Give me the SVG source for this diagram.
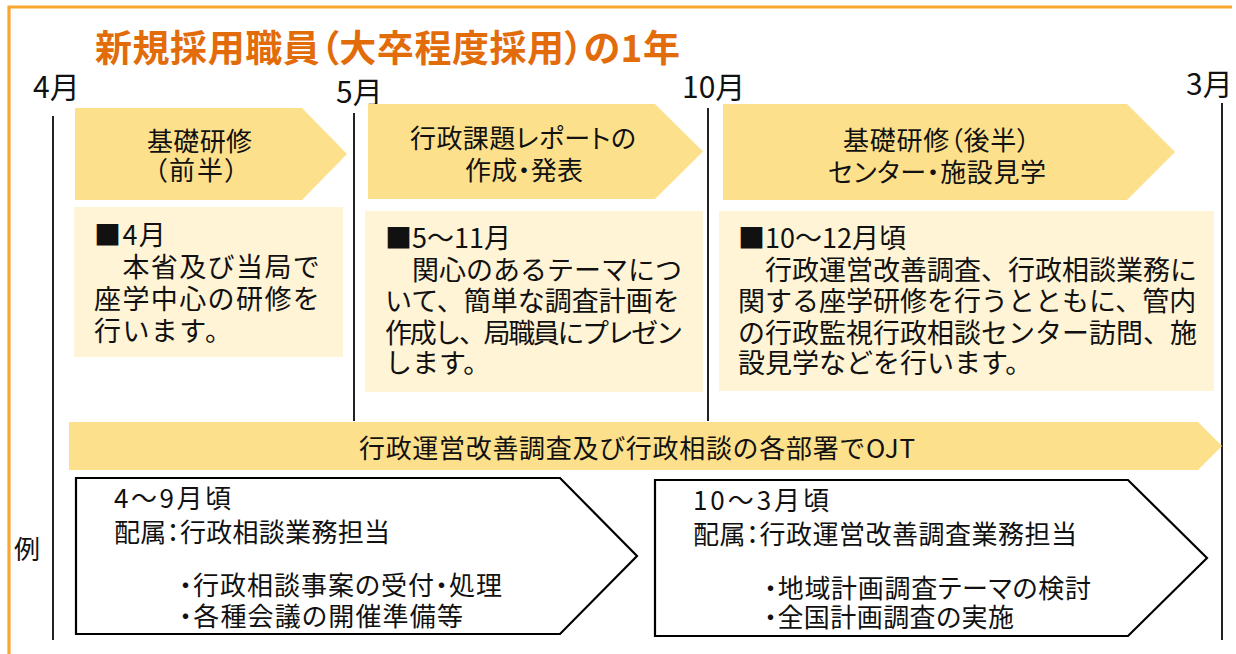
<svg xmlns="http://www.w3.org/2000/svg" width="1236" height="654" viewBox="0 0 1236 654">
<style>
text { font-family: "Noto Sans CJK JP", "Noto Sans CJK SC", sans-serif; fill: #111; }
.p { font-feature-settings: "palt" 1; }
.arrow { fill: #FDE08C; }
.box { fill: #FFF4D6; }
.pent { fill: #fff; stroke: #000; stroke-width: 2.2; stroke-linejoin: miter; }
.tl { stroke: #222; stroke-width: 2; fill: none; }
.m { font-size: 30px; }
.h { font-size: 26px; }
.b { font-size: 27px; }
.b1 { font-size: 27px; letter-spacing: 1.4px; }
.q { font-size: 26px; }
</style>
<rect width="1236" height="654" fill="#fff"/>
<path d="M1232 7 H9 V660" fill="none" stroke="#F8A531" stroke-width="3.2"/>
<g id="title">
<text x="95" y="62" class="p" font-size="37" font-weight="bold" style="fill:#E36C0A" textLength="585" lengthAdjust="spacing">新規採用職員（大卒程度採用）の1年</text>
</g>
<g id="connectors">
<line class="tl" x1="53" y1="116" x2="53" y2="640"/>
<line class="tl" x1="354" y1="113" x2="354" y2="421"/>
<line class="tl" x1="708" y1="108" x2="708" y2="421"/>
<line class="tl" x1="1222" y1="103" x2="1222" y2="640"/>
</g>
<g id="months">
<text class="m" x="33" y="98">4月</text>
<text class="m" x="336" y="103">5月</text>
<text class="m" x="682" y="98">10月</text>
<text class="m" x="1186" y="95">3月</text>
</g>
<g id="phase1">
<path class="arrow" d="M75 108 H302 L347 154 L302 200 H75 Z"/>
<text class="h p" x="147" y="151" textLength="105" lengthAdjust="spacing">基礎研修</text>
<text class="h p" x="154" y="180" textLength="84" lengthAdjust="spacing">（前半）</text>
</g>
<g id="phase2">
<path class="arrow" d="M368 104 H655 L703 151.5 L655 199 H368 Z"/>
<text class="h p" x="410" y="148" textLength="226" lengthAdjust="spacing">行政課題レポートの</text>
<text class="h p" x="465" y="180" textLength="118" lengthAdjust="spacing">作成・発表</text>
</g>
<g id="phase3">
<path class="arrow" d="M723 104 H1127 L1175 152 L1127 200 H723 Z"/>
<text class="h p" x="843" y="150" textLength="187" lengthAdjust="spacing">基礎研修（後半）</text>
<text class="h p" x="828" y="182" textLength="218" lengthAdjust="spacing">センター・施設見学</text>
</g>
<g id="detail1">
<rect class="box" x="74" y="207" width="269" height="150"/>
<text class="b1" x="94" y="245">■4月</text>
<text class="b1" x="94" y="277">　本省及び当局で</text>
<text class="b1" x="94" y="309">座学中心の研修を</text>
<text class="b1" x="94" y="341">行います。</text>
</g>
<g id="detail2">
<rect class="box" x="365" y="211" width="338" height="181"/>
<text class="b" x="385" y="248">■5～11月</text>
<text class="b" x="385" y="280">　関心のあるテーマにつ</text>
<text class="b" x="385" y="311">いて、簡単な調査計画を</text>
<text class="b" x="385" y="343" textLength="298" lengthAdjust="spacing">作成し、局職員にプレゼン</text>
<text class="b" x="385" y="373">します。</text>
</g>
<g id="detail3">
<rect class="box" x="719" y="211" width="495" height="180"/>
<text class="b" x="738" y="248">■10～12月頃</text>
<text class="b" x="738" y="280">　行政運営改善調査、行政相談業務に</text>
<text class="b" x="738" y="311">関する座学研修を行うとともに、管内</text>
<text class="b" x="738" y="343">の行政監視行政相談センター訪問、施</text>
<text class="b" x="738" y="373">設見学などを行います。</text>
</g>
<g id="ojt">
<path class="arrow" d="M69 422 H1198 L1222 446 L1198 470 H69 Z"/>
<text class="q" x="359" y="458" textLength="556" lengthAdjust="spacing">行政運営改善調査及び行政相談の各部署でOJT</text>
</g>
<g id="example-label">
<text class="q" x="14" y="559">例</text>
</g>
<g id="assign1">
<path class="pent" d="M76 478 H560 L637 556 L560 634 H76 Z"/>
<text class="q p" x="114" y="508" textLength="117" lengthAdjust="spacing">4～9月頃</text>
<text class="q p" x="114" y="542" textLength="276" lengthAdjust="spacing">配属：行政相談業務担当</text>
<text class="q p" x="179" y="595" textLength="323" lengthAdjust="spacing">・行政相談事案の受付・処理</text>
<text class="q p" x="179" y="626" textLength="284" lengthAdjust="spacing">・各種会議の開催準備等</text>
</g>
<g id="assign2">
<path class="pent" d="M655 480 H1128 L1207 558 L1128 636 H655 Z"/>
<text class="q p" x="693" y="510" textLength="136" lengthAdjust="spacing">10～3月頃</text>
<text class="q p" x="693" y="544" textLength="384" lengthAdjust="spacing">配属：行政運営改善調査業務担当</text>
<text class="q p" x="764" y="598" textLength="327" lengthAdjust="spacing">・地域計画調査テーマの検討</text>
<text class="q p" x="764" y="627" textLength="250" lengthAdjust="spacing">・全国計画調査の実施</text>
</g>
</svg>
